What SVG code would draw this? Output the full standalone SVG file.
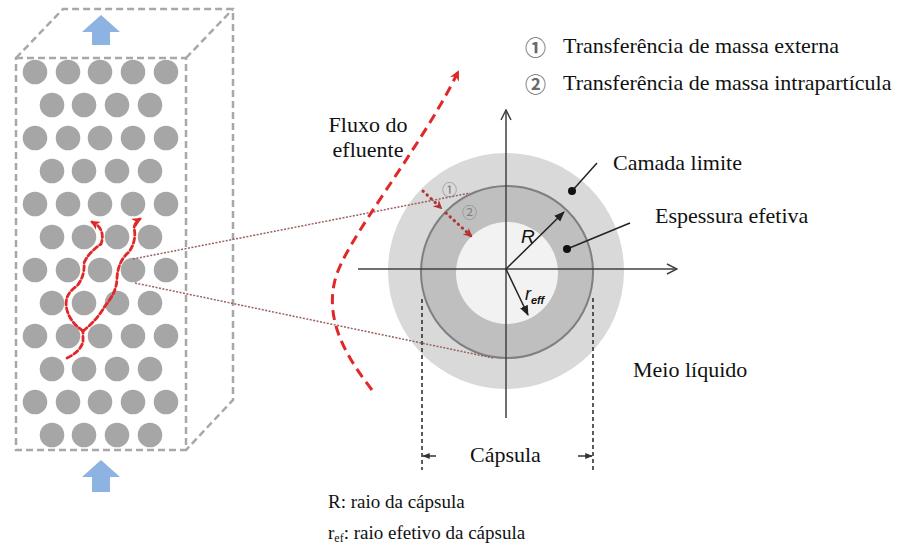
<svg xmlns="http://www.w3.org/2000/svg" width="903" height="550" viewBox="0 0 903 550">
<defs>
<style>
.t{font-family:"Liberation Serif","Times New Roman",serif;font-size:22px;fill:#111}
.ts{font-family:"Liberation Serif","Times New Roman",serif;font-size:19px;fill:#111}
.box{fill:none;stroke:#a8a8a8;stroke-width:2.5;stroke-dasharray:7,4}
.bead{fill:#a6a6a6}
.wave{fill:none;stroke:#e02828;stroke-width:2.8;stroke-dasharray:5,3;stroke-linecap:round}
.axis{fill:none;stroke:#404040;stroke-width:1.5}
.zoomln{fill:none;stroke:#9c5f5f;stroke-width:1.5;stroke-dasharray:2,1.5}
.dotred{fill:none;stroke:#b03434;stroke-width:3;stroke-dasharray:0.5,5;stroke-linecap:round}
.cap{fill:none;stroke:#333;stroke-width:1.6;stroke-dasharray:4,3}
.num{font-family:"Noto Sans CJK SC","DejaVu Sans",sans-serif;font-size:15px;fill:#808080}
.numL{font-family:"Noto Sans CJK SC","DejaVu Sans",sans-serif;font-size:21px;fill:#6a6a6a;font-weight:bold}
</style>
<marker id="redHead" viewBox="0 0 10 10" refX="8" refY="5" markerWidth="3.4" markerHeight="3.4" orient="auto" markerUnits="strokeWidth">
<path d="M0,0 L10,5 L0,10 L3,5 Z" fill="#e02828"/>
</marker>
<marker id="darkRedHead" viewBox="0 0 10 10" refX="8" refY="5" markerWidth="3" markerHeight="3" orient="auto" markerUnits="strokeWidth">
<path d="M0,0 L10,5 L0,10 L3,5 Z" fill="#b03434"/>
</marker>
<marker id="openHead" viewBox="0 0 12 12" refX="11" refY="6" markerWidth="8" markerHeight="8" orient="auto" markerUnits="strokeWidth">
<path d="M1,1 L11,6 L1,11" fill="none" stroke="#404040" stroke-width="1.5"/>
</marker>
<marker id="blackHead" viewBox="0 0 10 10" refX="9" refY="5" markerWidth="7" markerHeight="7" orient="auto" markerUnits="strokeWidth">
<path d="M0,1 L10,5 L0,9 Z" fill="#222"/>
</marker>
<marker id="smallHead" viewBox="0 0 10 10" refX="9" refY="5" markerWidth="5" markerHeight="5" orient="auto" markerUnits="strokeWidth">
<path d="M0,1 L10,5 L0,9 Z" fill="#333"/>
</marker>
</defs>
<rect width="903" height="550" fill="#fff"/>

<g id="column">
<path class="box" d="M16,58 L186,58 L186,450 L16,450 Z"/>
<path class="box" d="M16,58 L63,9 L233,9 L233,400 L186,450"/>
<path class="box" d="M186,58 L233,9"/>
<g id="beads">
<g id="row5a">
<circle class="bead" cx="35" cy="72" r="12.3"/><circle class="bead" cx="68" cy="72" r="12.3"/><circle class="bead" cx="100" cy="72" r="12.3"/><circle class="bead" cx="133" cy="72" r="12.3"/><circle class="bead" cx="166" cy="72" r="12.3"/>
<circle class="bead" cx="35" cy="138" r="12.3"/><circle class="bead" cx="68" cy="138" r="12.3"/><circle class="bead" cx="100" cy="138" r="12.3"/><circle class="bead" cx="133" cy="138" r="12.3"/><circle class="bead" cx="166" cy="138" r="12.3"/>
<circle class="bead" cx="35" cy="204" r="12.3"/><circle class="bead" cx="68" cy="204" r="12.3"/><circle class="bead" cx="100" cy="204" r="12.3"/><circle class="bead" cx="133" cy="204" r="12.3"/><circle class="bead" cx="166" cy="204" r="12.3"/>
<circle class="bead" cx="35" cy="270" r="12.3"/><circle class="bead" cx="68" cy="270" r="12.3"/><circle class="bead" cx="100" cy="270" r="12.3"/><circle class="bead" cx="133" cy="270" r="12.3"/><circle class="bead" cx="166" cy="270" r="12.3"/>
<circle class="bead" cx="35" cy="336" r="12.3"/><circle class="bead" cx="68" cy="336" r="12.3"/><circle class="bead" cx="100" cy="336" r="12.3"/><circle class="bead" cx="133" cy="336" r="12.3"/><circle class="bead" cx="166" cy="336" r="12.3"/>
<circle class="bead" cx="35" cy="402" r="12.3"/><circle class="bead" cx="68" cy="402" r="12.3"/><circle class="bead" cx="100" cy="402" r="12.3"/><circle class="bead" cx="133" cy="402" r="12.3"/><circle class="bead" cx="166" cy="402" r="12.3"/>
</g>
<g id="row4">
<circle class="bead" cx="52" cy="105" r="12.3"/><circle class="bead" cx="84" cy="105" r="12.3"/><circle class="bead" cx="117" cy="105" r="12.3"/><circle class="bead" cx="150" cy="105" r="12.3"/>
<circle class="bead" cx="52" cy="171" r="12.3"/><circle class="bead" cx="84" cy="171" r="12.3"/><circle class="bead" cx="117" cy="171" r="12.3"/><circle class="bead" cx="150" cy="171" r="12.3"/>
<circle class="bead" cx="52" cy="237" r="12.3"/><circle class="bead" cx="84" cy="237" r="12.3"/><circle class="bead" cx="117" cy="237" r="12.3"/><circle class="bead" cx="150" cy="237" r="12.3"/>
<circle class="bead" cx="52" cy="303" r="12.3"/><circle class="bead" cx="84" cy="303" r="12.3"/><circle class="bead" cx="117" cy="303" r="12.3"/><circle class="bead" cx="150" cy="303" r="12.3"/>
<circle class="bead" cx="52" cy="369" r="12.3"/><circle class="bead" cx="84" cy="369" r="12.3"/><circle class="bead" cx="117" cy="369" r="12.3"/><circle class="bead" cx="150" cy="369" r="12.3"/>
<circle class="bead" cx="52" cy="435" r="12.3"/><circle class="bead" cx="84" cy="435" r="12.3"/><circle class="bead" cx="117" cy="435" r="12.3"/><circle class="bead" cx="150" cy="435" r="12.3"/>
</g>
</g>
<polygon id="arrowTop" points="101,15 120,32 110,32 110,45 92,45 92,32 82,32" fill="#8db3e2"/>
<polygon id="arrowBottom" points="101,460 120,477 110,477 110,492 92,492 92,477 82,477" fill="#8db3e2"/>
</g>

<g id="capsule">
<circle cx="506" cy="271" r="118" fill="#d9d9d9"/>
<circle cx="507" cy="272" r="86" fill="#bfbfbf" stroke="#7f7f7f" stroke-width="2"/>
<circle cx="507" cy="273" r="51" fill="#f2f2f2"/>
</g>

<g id="connectors">
<path class="wave" d="M67,358 Q80,352 83,342 L83,331"/>
<path class="wave" marker-end="url(#redHead)" d="M83,331 Q70,322 67,310 Q63,295 77,286 Q85,276 84,263 Q88,253 101,244 Q105,232 97,225 L92,222"/>
<path class="wave" marker-end="url(#redHead)" d="M83,331 Q97,320 105,306 Q117,292 117,278 Q118,261 129,252 Q137,240 134,228 Q135,222 140,219"/>
<path class="zoomln" d="M133,259 L470,193"/>
<path class="zoomln" d="M135,283 L493,358"/>
<path fill="none" stroke="#e02828" stroke-width="3" stroke-dasharray="10,6" marker-end="url(#redHead)" d="M372,390 C345,355 325,320 335,280 C345,240 420,150 458,72"/>
<path class="axis" marker-end="url(#openHead)" d="M358,269 L677,269"/>
<path class="axis" marker-end="url(#openHead)" d="M506,418 L506,110"/>
<path fill="none" stroke="#222" stroke-width="1.5" marker-end="url(#blackHead)" d="M506,269 L564,212"/>
<path fill="none" stroke="#222" stroke-width="1.5" marker-end="url(#blackHead)" d="M506,269 L528,315"/>
<path class="dotred" marker-end="url(#darkRedHead)" d="M423,191 L441,208"/>
<path class="dotred" marker-end="url(#darkRedHead)" d="M446,213 L471,236"/>
<path fill="none" stroke="#222" stroke-width="1.5" d="M597,163 L572,191"/>
<circle cx="572" cy="191" r="4" fill="#111"/>
<path fill="none" stroke="#222" stroke-width="1.5" d="M630,223 L567,249"/>
<circle cx="567" cy="249" r="4" fill="#111"/>
<path class="cap" d="M422,299 L422,470"/>
<path class="cap" d="M593,298 L593,470"/>
<path fill="none" stroke="#333" stroke-width="1.5" marker-end="url(#smallHead)" d="M436,456 L423,456"/>
<path fill="none" stroke="#333" stroke-width="1.5" marker-end="url(#smallHead)" d="M578,456 L592,456"/>
</g>

<g id="labels">
<text class="numL" x="525" y="55">①</text>
<text class="t" x="563" y="53">Transferência de massa externa</text>
<text class="numL" x="525" y="92">②</text>
<text class="t" x="563" y="90">Transferência de massa intrapartícula</text>
<text class="t" x="368" y="132" text-anchor="middle">Fluxo do</text>
<text class="t" x="368" y="157" text-anchor="middle">efluente</text>
<text class="num" x="442" y="195">①</text>
<text class="num" x="462" y="218">②</text>
<text x="521" y="243" font-family="Liberation Sans,Arial,sans-serif" font-style="italic" font-size="19" fill="#111">R</text>
<text x="525" y="300" font-family="Liberation Sans,Arial,sans-serif" font-style="italic" font-size="18" fill="#111">r<tspan font-size="11" font-weight="bold" dy="4">eff</tspan></text>
<text class="t" x="613" y="170">Camada limite</text>
<text class="t" x="655" y="223">Espessura efetiva</text>
<text class="t" x="633" y="377">Meio líquido</text>
<text class="t" x="470" y="462">Cápsula</text>
<text class="ts" x="328" y="508">R: raio da cápsula</text>
<text class="ts" x="328" y="539">r<tspan font-size="12" dy="3">ef</tspan><tspan dy="-3">: raio efetivo da cápsula</tspan></text>
</g>
</svg>
